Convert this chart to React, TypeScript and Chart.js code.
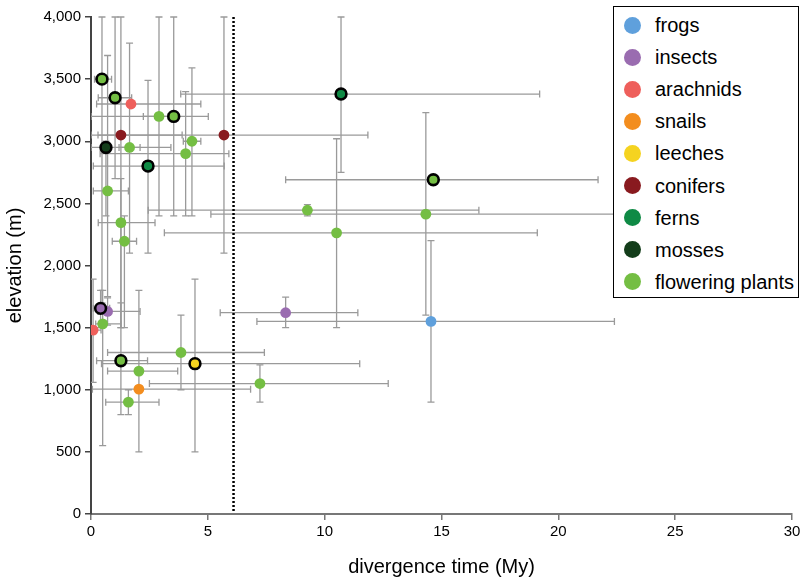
import { useEffect, useRef } from 'react';
import { Chart, registerables } from 'chart.js';
Chart.register(...registerables);

const FONT = '"Liberation Sans", Arial, Helvetica, sans-serif';

// groups
const groupNames = ['frogs', 'insects', 'arachnids', 'snails', 'leeches', 'conifers', 'ferns', 'mosses', 'flowering plants'];
const groupColors = ['#5FA0DC', '#9A6CB0', '#EE5F5B', '#F38D1E', '#F5D320', '#891A1F', '#0F8A45', '#133D1A', '#74BE43'];

// per-point data
const pointGroup = [0, 1, 1, 1, 2, 2, 3, 4, 5, 5, 6, 6, 7, 8, 8, 8, 8, 8, 8, 8, 8, 8, 8, 8, 8, 8, 8, 8, 8, 8, 8, 8, 8];
const divergence = [14.55, 8.33, 0.71, 0.41, 1.71, 0.09, 2.05, 4.45, 1.28, 5.69, 2.44, 10.7, 0.64, 0.47, 1.03, 2.91, 3.54, 4.32, 4.05, 1.65, 0.71, 1.28, 1.43, 14.65, 9.26, 14.33, 10.51, 0.5, 1.28, 3.85, 2.05, 7.23, 1.6];
const elevation = [1550, 1620, 1630, 1655, 3300, 1480, 1005, 1210, 3050, 3050, 2800, 3380, 2950, 3500, 3350, 3200, 3200, 3000, 2900, 2950, 2600, 2345, 2195, 2690, 2445, 2413, 2263, 1530, 1234, 1300, 1150, 1050, 900];
const divergenceLow = [7.1, 5.53, 0.3, 0.1, 0.24, 0, 0.06, 0.45, 0, 0.3, 0.1, 3.84, 0, 0.15, 0.31, 0, 2.24, 3.95, 0.39, 1.2, 0.1, 0.31, 0.91, 8.33, 2.45, 5.13, 3.14, 0.2, 0.24, 0.71, 0.71, 2.5, 0.63];
const divergenceHigh = [22.4, 11.42, 2.1, 0.8, 4.7, 0.43, 6.83, 11.5, 3.9, 11.85, 5.7, 19.2, 3.42, 0.88, 1.74, 3.3, 5.02, 4.7, 5.9, 2.1, 1.6, 2.74, 1.95, 21.7, 16.6, 31, 19.1, 1.28, 2.42, 7.42, 3.71, 12.72, 2.91];
const elevationLow = [900, 1500, 1520, 1500, 3300, 1060, 500, 500, 1500, 2100, 2100, 2750, 2400, 1700, 2700, 2400, 2400, 2400, 2400, 2100, 1750, 1500, 1500, 2690, 2400, 1600, 1500, 550, 800, 1000, 1150, 900, 800];
const elevationHigh = [2200, 1745, 1740, 1800, 3300, 1890, 1800, 1890, 4000, 4000, 3490, 4000, 3000, 4000, 4000, 4000, 4000, 3590, 3400, 3790, 3690, 2700, 2400, 2690, 2490, 3230, 3020, 1800, 1700, 1600, 1150, 1200, 1000];
const outlined = [0, 0, 0, 1, 0, 0, 0, 1, 0, 0, 1, 1, 1, 1, 1, 0, 1, 0, 0, 0, 0, 0, 0, 1, 0, 0, 0, 0, 1, 0, 0, 0, 0];

const thresholdDivergence = 6.1;

const xTicks = [0, 5, 10, 15, 20, 25, 30];
const yTicks = [0, 500, 1000, 1500, 2000, 2500, 3000, 3500, 4000];

const errorBarPlugin = {
  id: 'errorBars',
  beforeDatasetsDraw(chart: any) {
    const { ctx, chartArea, scales } = chart;
    const xs = scales.x;
    const ys = scales.y;
    ctx.save();
    ctx.beginPath();
    ctx.rect(chartArea.left, chartArea.top - 2, chartArea.right - chartArea.left, chartArea.bottom - chartArea.top + 2);
    ctx.clip();
    ctx.strokeStyle = '#9a9a9a';
    ctx.lineWidth = 1.3;
    const cap = 3.5;
    for (let i = 0; i < divergence.length; i++) {
      const px = xs.getPixelForValue(divergence[i]);
      const py = ys.getPixelForValue(elevation[i]);
      const x0 = xs.getPixelForValue(divergenceLow[i]);
      const x1 = xs.getPixelForValue(divergenceHigh[i]);
      const y0 = ys.getPixelForValue(elevationLow[i]);
      const y1 = ys.getPixelForValue(elevationHigh[i]);
      ctx.beginPath();
      if (Math.abs(x1 - x0) > 1) {
        ctx.moveTo(x0, py); ctx.lineTo(x1, py);
        ctx.moveTo(x0, py - cap); ctx.lineTo(x0, py + cap);
        ctx.moveTo(x1, py - cap); ctx.lineTo(x1, py + cap);
      }
      if (Math.abs(y1 - y0) > 1) {
        ctx.moveTo(px, y0); ctx.lineTo(px, y1);
        ctx.moveTo(px - cap, y0); ctx.lineTo(px + cap, y0);
        ctx.moveTo(px - cap, y1); ctx.lineTo(px + cap, y1);
      }
      ctx.stroke();
    }
    // dotted threshold line
    const tx = xs.getPixelForValue(thresholdDivergence);
    ctx.beginPath();
    ctx.setLineDash([2, 2]);
    ctx.strokeStyle = '#000';
    ctx.lineWidth = 2.5;
    ctx.moveTo(tx, chartArea.top);
    ctx.lineTo(tx, chartArea.bottom - 3);
    ctx.stroke();
    ctx.restore();
  },
};

export default function App() {
  const ref = useRef<HTMLCanvasElement>(null);
  useEffect(() => {
    const datasets = groupNames.map((name, g) => {
      const idx = pointGroup.map((pg, i) => (pg === g ? i : -1)).filter((i) => i >= 0);
      return {
        label: name,
        data: idx.map((i) => ({ x: divergence[i], y: elevation[i] })),
        backgroundColor: groupColors[g],
        pointBackgroundColor: groupColors[g],
        pointBorderColor: idx.map((i) => (outlined[i] ? '#000' : groupColors[g])),
        pointBorderWidth: idx.map((i) => (outlined[i] ? 2.6 : 0)),
        pointRadius: 5.4,
        showLine: false,
      };
    });
    const chart = new Chart(ref.current!, {
      type: 'scatter',
      data: { datasets },
      plugins: [errorBarPlugin],
      options: {
        animation: false,
        responsive: false,
        events: [],
        layout: { padding: { top: 17, right: 0, left: 0, bottom: 0 } },
        plugins: { legend: { display: false }, tooltip: { enabled: false } },
        scales: {
          x: {
            type: 'linear',
            min: 0,
            max: 30,
            afterBuildTicks: (s: any) => { s.ticks = xTicks.map((v) => ({ value: v })); },
            ticks: { font: { family: FONT, size: 15 }, color: '#000', padding: 3 },
            grid: { display: true, drawOnChartArea: false, drawTicks: true, tickLength: 6, color: '#777', lineWidth: 1.5 },
            border: { display: true, color: '#777', width: 2 },
            title: { display: true, text: 'divergence time (My)', font: { family: FONT, size: 20 }, color: '#000', padding: { top: 0, bottom: -1 } },
            afterFit: (s: any) => { s.height = 64; s.paddingRight = 8; s.paddingLeft = 0; },
          },
          y: {
            type: 'linear',
            min: 0,
            max: 4000,
            afterBuildTicks: (s: any) => { s.ticks = yTicks.map((v) => ({ value: v })); },
            ticks: {
              font: { family: FONT, size: 15 },
              color: '#000',
              padding: 4,
              callback: (v: any) => Number(v).toLocaleString('en-US'),
            },
            grid: { display: true, drawOnChartArea: false, drawTicks: true, tickLength: 6, color: '#444', lineWidth: 1.5 },
            border: { display: true, color: '#444', width: 2 },
            title: { display: true, text: 'elevation (m)', font: { family: FONT, size: 20 }, color: '#000', padding: { top: 3, bottom: 0 } },
            afterFit: (s: any) => { s.width = 91; },
          },
        },
      },
    });
    return () => chart.destroy();
  }, []);

  return (
    <div style={{ position: 'fixed', left: 0, top: 0, width: 800, height: 578, background: '#fff', overflow: 'hidden' }}>
      <canvas ref={ref} width={800} height={578} style={{ display: 'block', width: 800, height: 578 }} />
      <div
        style={{
          position: 'absolute',
          left: 613,
          top: 6,
          width: 186,
          height: 292,
          boxSizing: 'border-box',
          border: '1px solid #000',
          background: '#fff',
          fontFamily: FONT,
          fontSize: 20,
          color: '#000',
        }}
      >
        {groupNames.map((name, g) => (
          <div key={name} style={{ position: 'absolute', left: 0, top: 18 + g * 32.1, height: 0 }}>
            <span
              style={{
                position: 'absolute',
                left: 10,
                top: -8.5,
                width: 17,
                height: 17,
                borderRadius: '50%',
                background: groupColors[g],
              }}
            />
            <span style={{ position: 'absolute', left: 41, top: -12, lineHeight: '24px', whiteSpace: 'nowrap' }}>{name}</span>
          </div>
        ))}
      </div>
    </div>
  );
}
